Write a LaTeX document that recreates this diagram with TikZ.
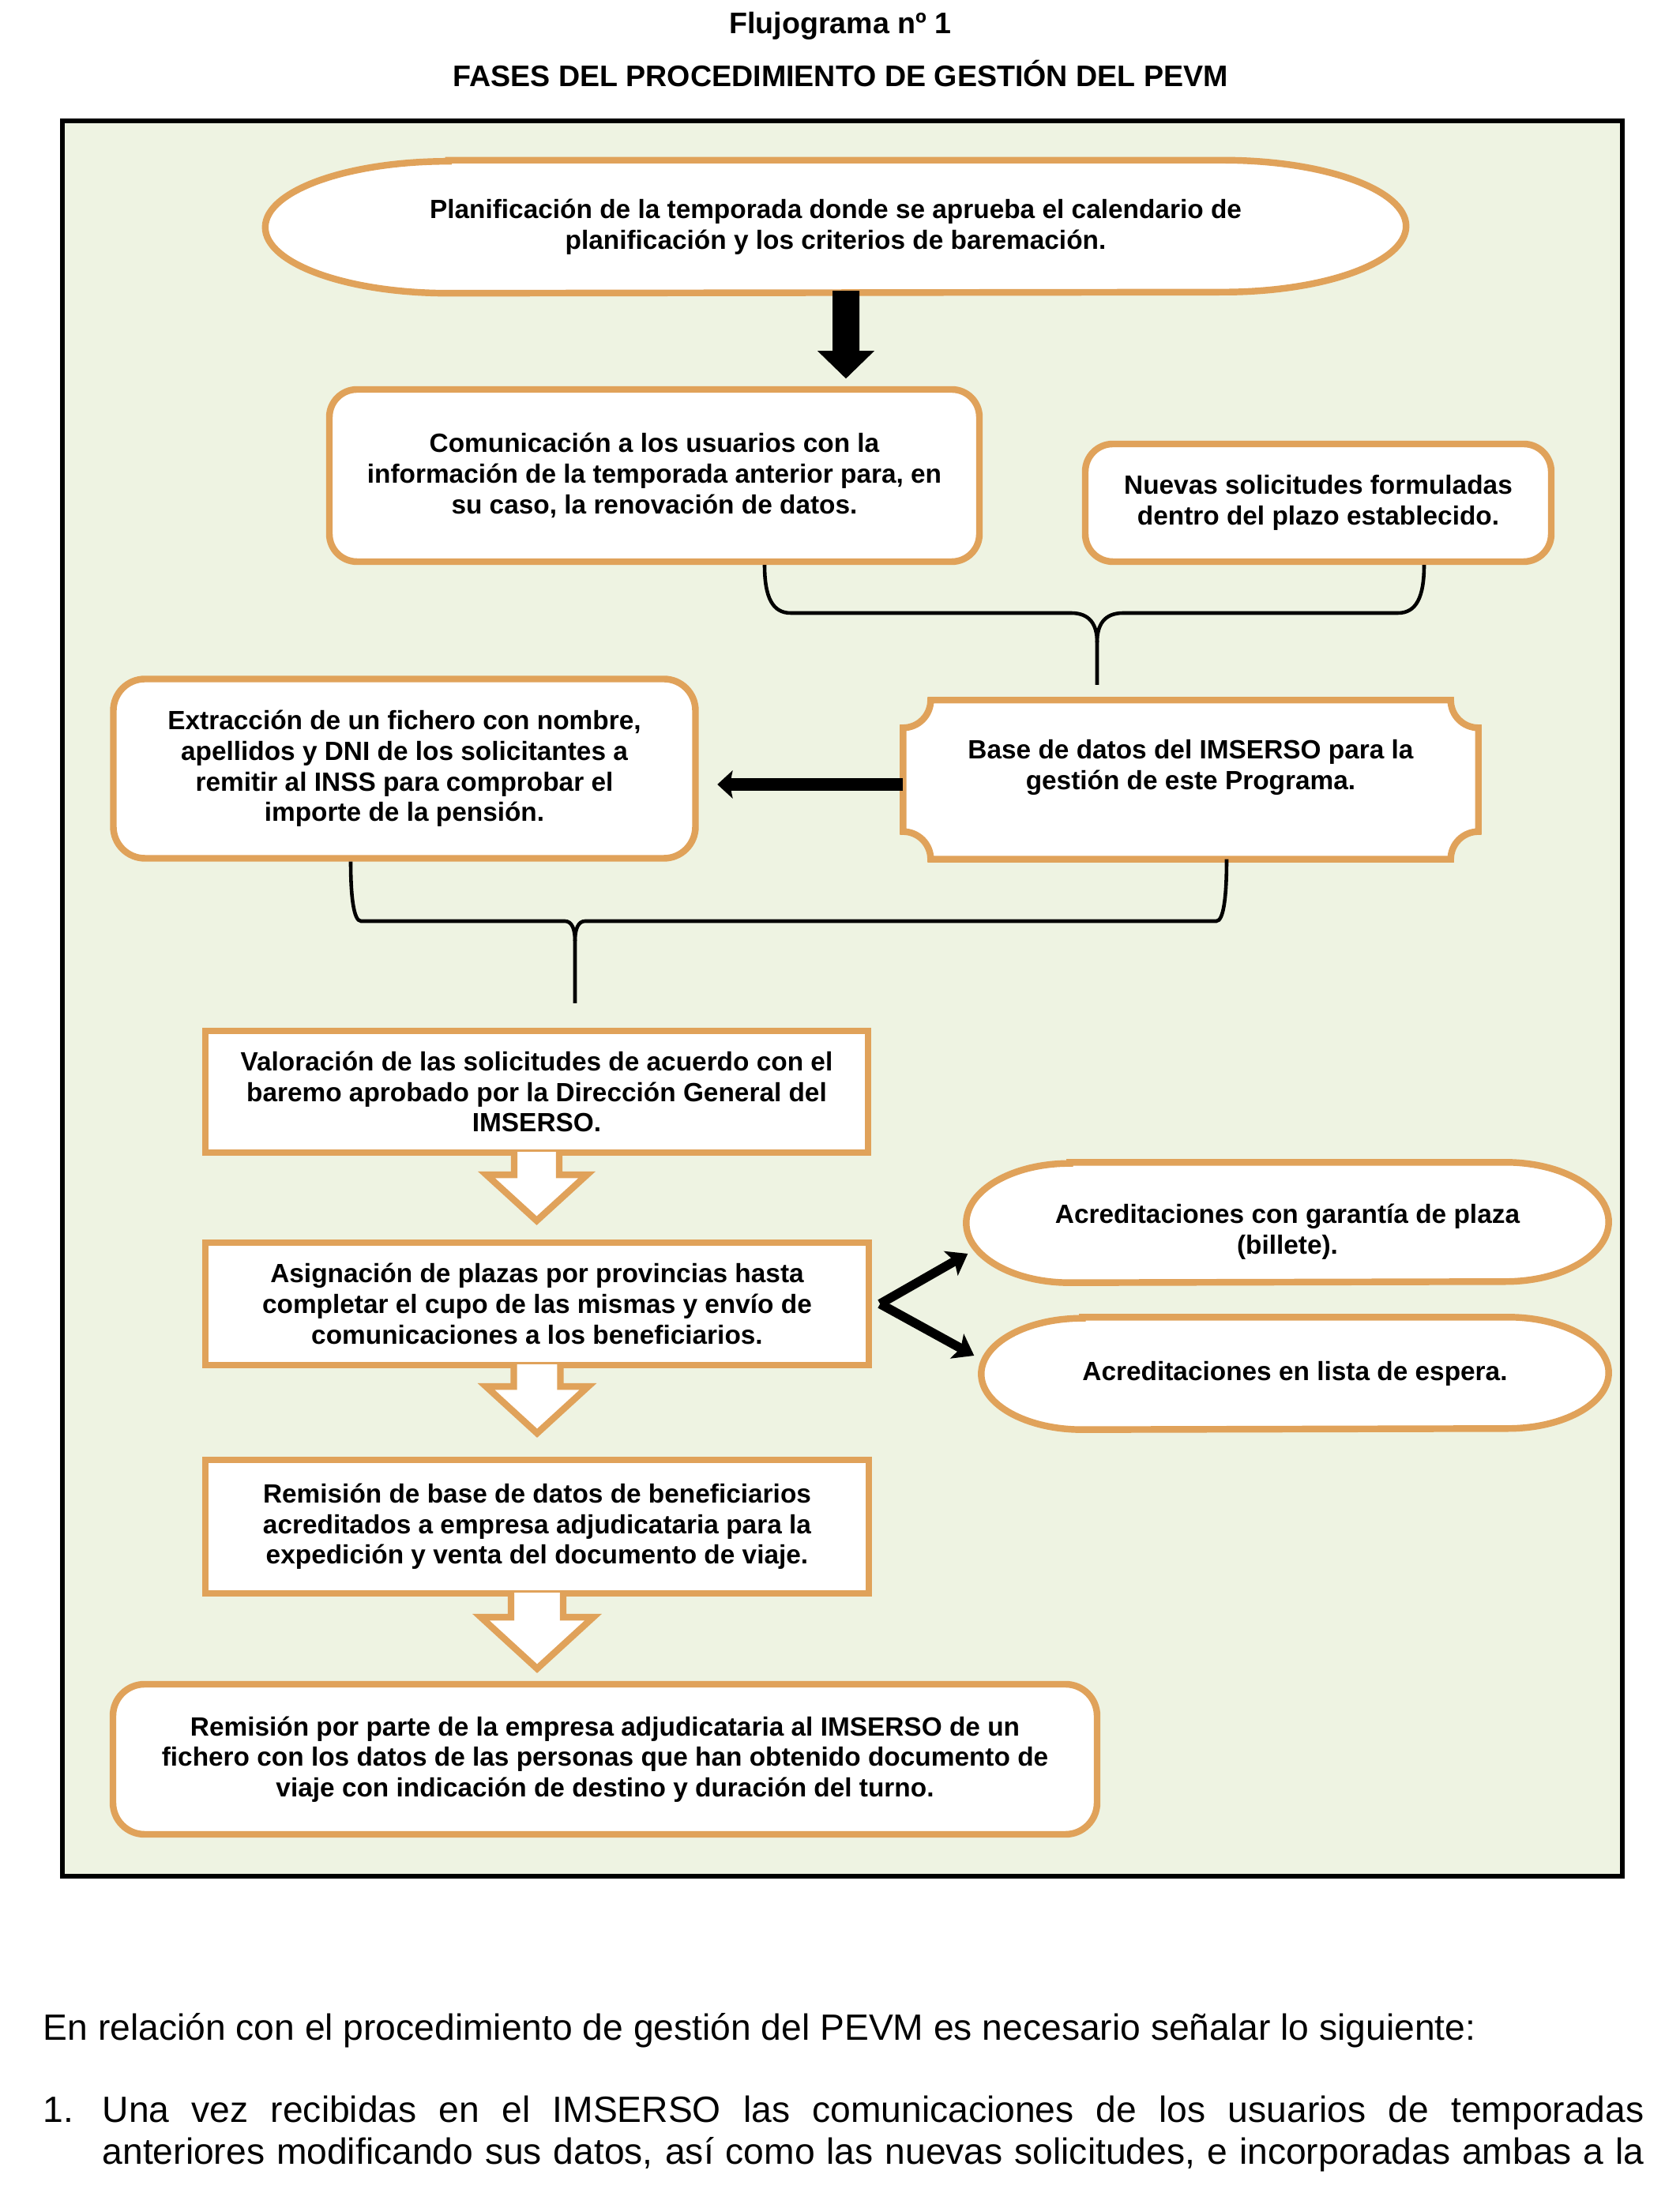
\documentclass[tikz,border=0pt]{standalone}
\usepackage{fontspec}
\setmainfont{Liberation Sans}
\usepackage{tikz}
\usetikzlibrary{positioning,calc,backgrounds,arrows.meta}

\definecolor{fondo}{RGB}{238,243,226}
\definecolor{naranja}{RGB}{224,162,90}

% terminal shape round a node: node, x radius, y radius
\newcommand{\terminal}[3]{%
  \draw[orangeline, fill=white] ([xshift=#2]#1.north west) -- ([xshift=-#2]#1.north east)
    arc[start angle=90, end angle=-90, x radius=#2, y radius=#3]
    -- ([xshift=#2]#1.south west)
    arc[start angle=270, end angle=90, x radius=#2, y radius=#3] -- cycle;}

% plaque (concave corners) round a node: node, radius
\newcommand{\plaque}[2]{%
  \draw[orangeline, fill=white] ([xshift=#2]#1.north west) -- ([xshift=-#2]#1.north east)
    arc[start angle=180, end angle=270, radius=#2] -- ([yshift=#2]#1.south east)
    arc[start angle=90, end angle=180, radius=#2] -- ([xshift=#2]#1.south west)
    arc[start angle=0, end angle=90, radius=#2] -- ([yshift=-#2]#1.north west)
    arc[start angle=270, end angle=360, radius=#2] -- cycle;}

% hollow block arrow below a node: node, shaft half width, head half width, head start, tip
\newcommand{\hollowdown}[5]{%
  \filldraw[orangeline, fill=white, line join=miter]
    ($(#1.south)+(-#2,0.05)$) -- ($(#1.south)+(-#2,-#4)$) -- ($(#1.south)+(-#3,-#4)$)
    -- ($(#1.south)+(0,-#5)$) -- ($(#1.south)+(#3,-#4)$) -- ($(#1.south)+(#2,-#4)$)
    -- ($(#1.south)+(#2,0.05)$);}

\begin{document}
\begin{tikzpicture}[
    orangeline/.style={draw=naranja, line width=2.4pt},
    txt/.style={font=\bfseries\fontsize{9.5}{11}\selectfont, align=center, inner sep=0pt},
    caja/.style={txt, orangeline, fill=white},
    titulo/.style={font=\bfseries\fontsize{10.7}{12}\selectfont, inner sep=0pt},
    cuerpo/.style={font=\fontsize{13.15}{15}\selectfont, inner sep=0pt},
    llave/.style={line width=1.3pt},
    flecha/.style={line width=4.4pt, -{Stealth[length=5.5pt, width=10pt, inset=1pt]}},
    bifurca/.style={line width=3.3pt, -{Stealth[length=7pt, width=10pt, inset=1.5pt]}}
  ]
  \useasboundingbox (0,0) rectangle (21.26,27.76);

  \node[titulo, anchor=base] (flujo) at (10.64,27.33) {Flujograma nº 1};
  \node[titulo, anchor=base] (fases) at (10.64,26.66) {FASES DEL PROCEDIMIENTO DE GESTIÓN DEL PEVM};

  \begin{scope}[on background layer]
    \draw[line width=1.7pt, fill=fondo] (0.79,26.23) rectangle (20.54,4.01);
  \end{scope}

  \node[txt, minimum width=14.43cm, minimum height=1.67cm] (plan) at (10.58,24.89)
    {Planificación de la temporada donde se aprueba el calendario de\\planificación y los criterios de baremación.};
  \node[caja, rounded corners=0.35cm, minimum width=8.23cm, minimum height=2.18cm] (com) at (8.285,21.74)
    {Comunicación a los usuarios con la\\información de la temporada anterior para, en\\su caso, la renovación de datos.};
  \node[caja, rounded corners=0.35cm, minimum width=5.90cm, minimum height=1.49cm] (nue) at (16.69,21.395)
    {Nuevas solicitudes formuladas\\dentro del plazo establecido.};
  \node[caja, rounded corners=0.4cm, minimum width=7.37cm, minimum height=2.27cm] (extr) at (5.12,18.03)
    {Extracción de un fichero con nombre,\\apellidos y DNI de los solicitantes a\\remitir al INSS para comprobar el\\importe de la pensión.};
  \node[txt, minimum width=7.27cm, minimum height=2.00cm] (base) at (15.075,17.89)
    {Base de datos del IMSERSO para la\\gestión de este Programa.\\[0pt]\mbox{}};
  \node[caja, minimum width=8.39cm, minimum height=1.54cm] (val) at (6.795,13.94)
    {Valoración de las solicitudes de acuerdo con el\\baremo aprobado por la Dirección General del\\IMSERSO.};
  \node[caja, minimum width=8.40cm, minimum height=1.55cm] (asig) at (6.80,11.255)
    {Asignación de plazas por provincias hasta\\completar el cupo de las mismas y envío de\\comunicaciones a los beneficiarios.};
  \node[txt, minimum width=8.12cm, minimum height=1.51cm] (acr1) at (16.30,12.285)
    {\mbox{}\\[2.5pt]Acreditaciones con garantía de plaza\\(billete).};
  \node[txt, minimum width=7.93cm, minimum height=1.41cm] (acr2) at (16.395,10.375)
    {Acreditaciones en lista de espera.};
  \node[caja, minimum width=8.40cm, minimum height=1.69cm] (rem1) at (6.80,8.435)
    {Remisión de base de datos de beneficiarios\\acreditados a empresa adjudicataria para la\\expedición y venta del documento de viaje.};
  \node[caja, rounded corners=0.4cm, minimum width=12.46cm, minimum height=1.90cm] (rem2) at (7.66,5.49)
    {Remisión por parte de la empresa adjudicataria al IMSERSO de un\\fichero con los datos de las personas que han obtenido documento de\\viaje con indicación de destino y duración del turno.};

  \begin{scope}[on background layer]
    \terminal{plan}{2.32cm}{0.835cm}
    \terminal{acr1}{1.31cm}{0.755cm}
    \terminal{acr2}{1.28cm}{0.705cm}
    \plaque{base}{0.35cm}
  \end{scope}

  % block arrow plan -> com
  \coordinate (plandown) at ($(plan.south)+(0.13,0.03)$);
  \fill (plandown) ++(-0.17,0) -- ++(0,-0.76) -- ++(-0.19,0) -- ++(0.36,-0.35)
    -- ++(0.36,0.35) -- ++(-0.19,0) -- ++(0,0.76) -- cycle;

  % braces
  \coordinate (llaveA) at (13.89,19.09);
  \draw[llave] ([xshift=1.395cm]com.south) .. controls (9.68,20.2) and (9.78,20.0) .. (10.01,20.0)
    -- (13.56,20.0) .. controls (13.80,20.0) and (13.89,19.85) .. (13.89,19.63) -- (llaveA);
  \draw[llave] ([xshift=1.34cm]nue.south) .. controls (18.03,20.2) and (17.93,20.0) .. (17.70,20.0)
    -- (14.22,20.0) .. controls (13.98,20.0) and (13.89,19.85) .. (13.89,19.63);

  \coordinate (llaveB) at (7.28,15.06);
  \draw[llave] ([xshift=-0.68cm]extr.south) .. controls (4.44,16.4) and (4.48,16.10) .. (4.57,16.10)
    -- (7.15,16.10) .. controls (7.24,16.10) and (7.28,16.0) .. (7.28,15.85) -- (llaveB);
  \draw[llave] ([xshift=0.455cm]base.south) .. controls (15.53,16.4) and (15.49,16.10) .. (15.40,16.10)
    -- (7.41,16.10) .. controls (7.32,16.10) and (7.28,16.0) .. (7.28,15.85);

  % base -> extraction
  \coordinate (flechaini) at ([yshift=-0.06cm]base.west);
  \draw[flecha, shorten >=0.235cm] (flechaini) -- (flechaini -| extr.east);

  % fork to the two accreditations
  \draw[bifurca] ([xshift=0.1cm]asig.east) -- ([shift={(0.02,-0.395)}]acr1.west);
  \draw[bifurca] ([xshift=0.1cm]asig.east) -- ([shift={(-0.09,0.225)}]acr2.west);

  % hollow arrows
  \hollowdown{val}{0.285}{0.635}{0.24}{0.82}
  \hollowdown{asig}{0.295}{0.645}{0.23}{0.82}
  \hollowdown{rem1}{0.33}{0.71}{0.26}{0.91}

  % text below the chart
  \node[cuerpo, anchor=base west] (intro) at (0.54,1.93)
    {En relación con el procedimiento de gestión del PEVM es necesario señalar lo siguiente:};
  \node[cuerpo, anchor=base west] (num) at (0.54,0.89) {1.};
  \node[cuerpo, anchor=base west] (linea1) at (1.29,0.89)
    {\makebox[19.52cm][s]{Una vez recibidas en el IMSERSO las comunicaciones de los usuarios de temporadas}};
  \node[cuerpo, anchor=base west] (linea2) at (1.29,0.36)
    {\makebox[19.52cm][s]{anteriores modificando sus datos, así como las nuevas solicitudes, e incorporadas ambas a la}};
\end{tikzpicture}
\end{document}
